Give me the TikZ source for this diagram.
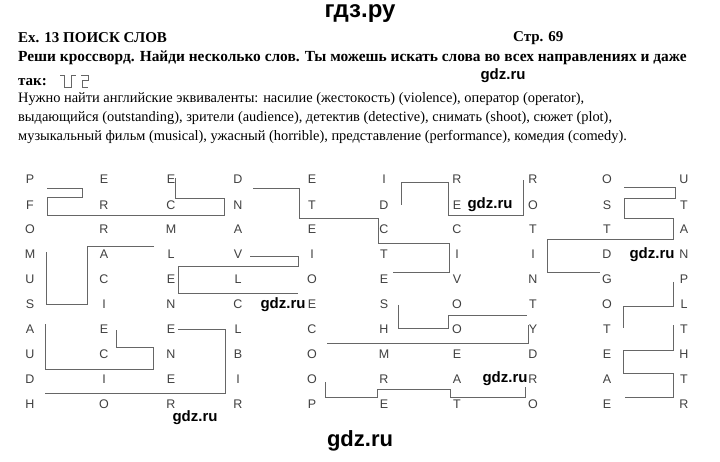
\documentclass[tikz,border=0pt]{standalone}
\usepackage{fontspec}
\setmainfont{Liberation Serif}
\newfontfamily\gridfont{Liberation Sans}
\begin{document}
\begin{tikzpicture}[x=1pt,y=-1pt,
  txt/.style={anchor=west,inner sep=0pt,font=\fontsize{14.4}{16}\selectfont},
  btxt/.style={anchor=west,inner sep=0pt,font=\fontsize{15}{16}\selectfont\bfseries},
  wm/.style={inner sep=0pt,font=\gridfont\fontsize{15}{17}\selectfont\bfseries},
  letter/.style={inner sep=0pt,font=\gridfont\fontsize{12.5}{14}\selectfont,text=black!75},
  sep/.style={draw=black!60,line width=0.8pt}]
\useasboundingbox (0,0) rectangle (720,462);
\fill[white] (0,0) rectangle (720,462);
\node[wm,font=\gridfont\fontsize{24}{26}\selectfont\bfseries] (h) at (360,14) {гдз.ру};
\node[btxt] (t1) at (18,38) {Ex. 13 ПОИСК СЛОВ};
\node[btxt] (t2) at (513,38) {Стр. 69};
\node[btxt,font=\fontsize{15.4}{16}\selectfont\bfseries] (t3) at (18,58) {Реши кроссворд. Найди несколько слов. Ты можешь искать слова во всех направлениях и даже};
\node[btxt] (t4) at (18,82) {так:};
\draw[sep] (60,75)--(64,75)--(64,87)--(71,87)--(71,75)--(76,75);
\draw[sep] (81,75)--(88,75)--(88,80)--(82,80)--(82,87)--(88,87);
\node[txt] (l1) at (18,99) {Нужно найти английские эквиваленты: насилие (жестокость) (violence), оператор (operator),};
\node[txt] (l2) at (18,118) {выдающийся (outstanding), зрители (audience), детектив (detective), снимать (shoot), сюжет (plot),};
\node[txt] (l3) at (18,137) {музыкальный фильм (musical), ужасный (horrible), представление (performance), комедия (comedy).};
\foreach \r/\yy in {0/179,1/205,2/229,3/254,4/279,5/304,6/329,7/354,8/379,9/404}{
  \ifcase\r \def\rowl{P,E,E,D,E,I,R,R,O,U}\or \def\rowl{F,R,C,N,T,D,E,O,S,T}\or
  \def\rowl{O,R,M,A,E,C,C,T,T,A}\or \def\rowl{M,A,L,V,I,T,I,I,D,N}\or
  \def\rowl{U,C,E,L,O,E,V,N,G,P}\or \def\rowl{S,I,N,C,E,S,O,T,O,L}\or
  \def\rowl{A,E,E,L,C,H,O,Y,T,T}\or \def\rowl{U,C,N,B,O,M,E,D,E,H}\or
  \def\rowl{D,I,E,I,O,R,A,R,A,T}\or \def\rowl{H,O,R,R,P,E,T,O,E,R}\fi
  \foreach \ch [count=\c] in \rowl{
    \ifcase\c\or\def\xx{30}\or\def\xx{104}\or\def\xx{171}\or\def\xx{238}\or\def\xx{312}\or\def\xx{384}\or\def\xx{457}\or\def\xx{533}\or\def\xx{607}\or\def\xx{684}\fi
    \node[letter] (g\r-\c) at (\xx,\yy) {\ch};
  }}
% separators
\draw[sep] (47,188)--(82,188)--(82,197)--(47,197)--(47,215)--(224,215)--(224,198)--(175,198)--(175,178);
\draw[sep] (154,246)--(87,246)--(87,304)--(46,304)--(46,252);
\draw[sep] (250,256)--(298,256)--(298,266)--(178,266)--(178,293)--(298,293);
\draw[sep] (116,330)--(116,347)--(153,347)--(153,369)--(45,369)--(45,324);
\draw[sep] (178,329)--(225,329)--(225,393)--(45,393);
\draw[sep] (253,188)--(299,188)--(299,218)--(378,218)--(378,243)--(449,243)--(449,272)--(393,272);
\draw[sep] (401,205)--(401,182)--(448,182)--(448,215)--(523,215)--(523,180);
\draw[sep] (398,305)--(398,328)--(448,328)--(448,315)--(527,315);
\draw[sep] (327,343)--(528,343)--(528,325);
\draw[sep] (325,382)--(325,397)--(377,397)--(377,389)--(450,389)--(450,397)--(525,397)--(525,383);
\draw[sep] (624,187)--(675,187)--(675,198)--(624,198)--(624,218)--(673,218)--(673,239)--(547,239)--(547,272)--(600,272);
\draw[sep] (673,282)--(673,306)--(623,306)--(623,328);
\draw[sep] (673,325)--(673,350)--(623,350)--(623,373)--(673,373)--(673,397)--(625,397);
% watermarks
\node[wm,fill=white,inner sep=1pt] (w1) at (503,76) {gdz.ru};
\node[wm,fill=white,inner sep=1pt] (w2) at (490,205) {gdz.ru};
\node[wm,fill=white,inner sep=1pt] (w3) at (652,255) {gdz.ru};
\node[wm,fill=white,inner sep=1pt] (w4) at (283,305) {gdz.ru};
\node[wm,fill=white,inner sep=1pt] (w5) at (505,379) {gdz.ru};
\node[wm,fill=white,inner sep=1pt] (w6) at (195,418) {gdz.ru};
\node[wm,font=\gridfont\fontsize{22}{24}\selectfont\bfseries] (w7) at (360,441) {gdz.ru};
\end{tikzpicture}
\end{document}
